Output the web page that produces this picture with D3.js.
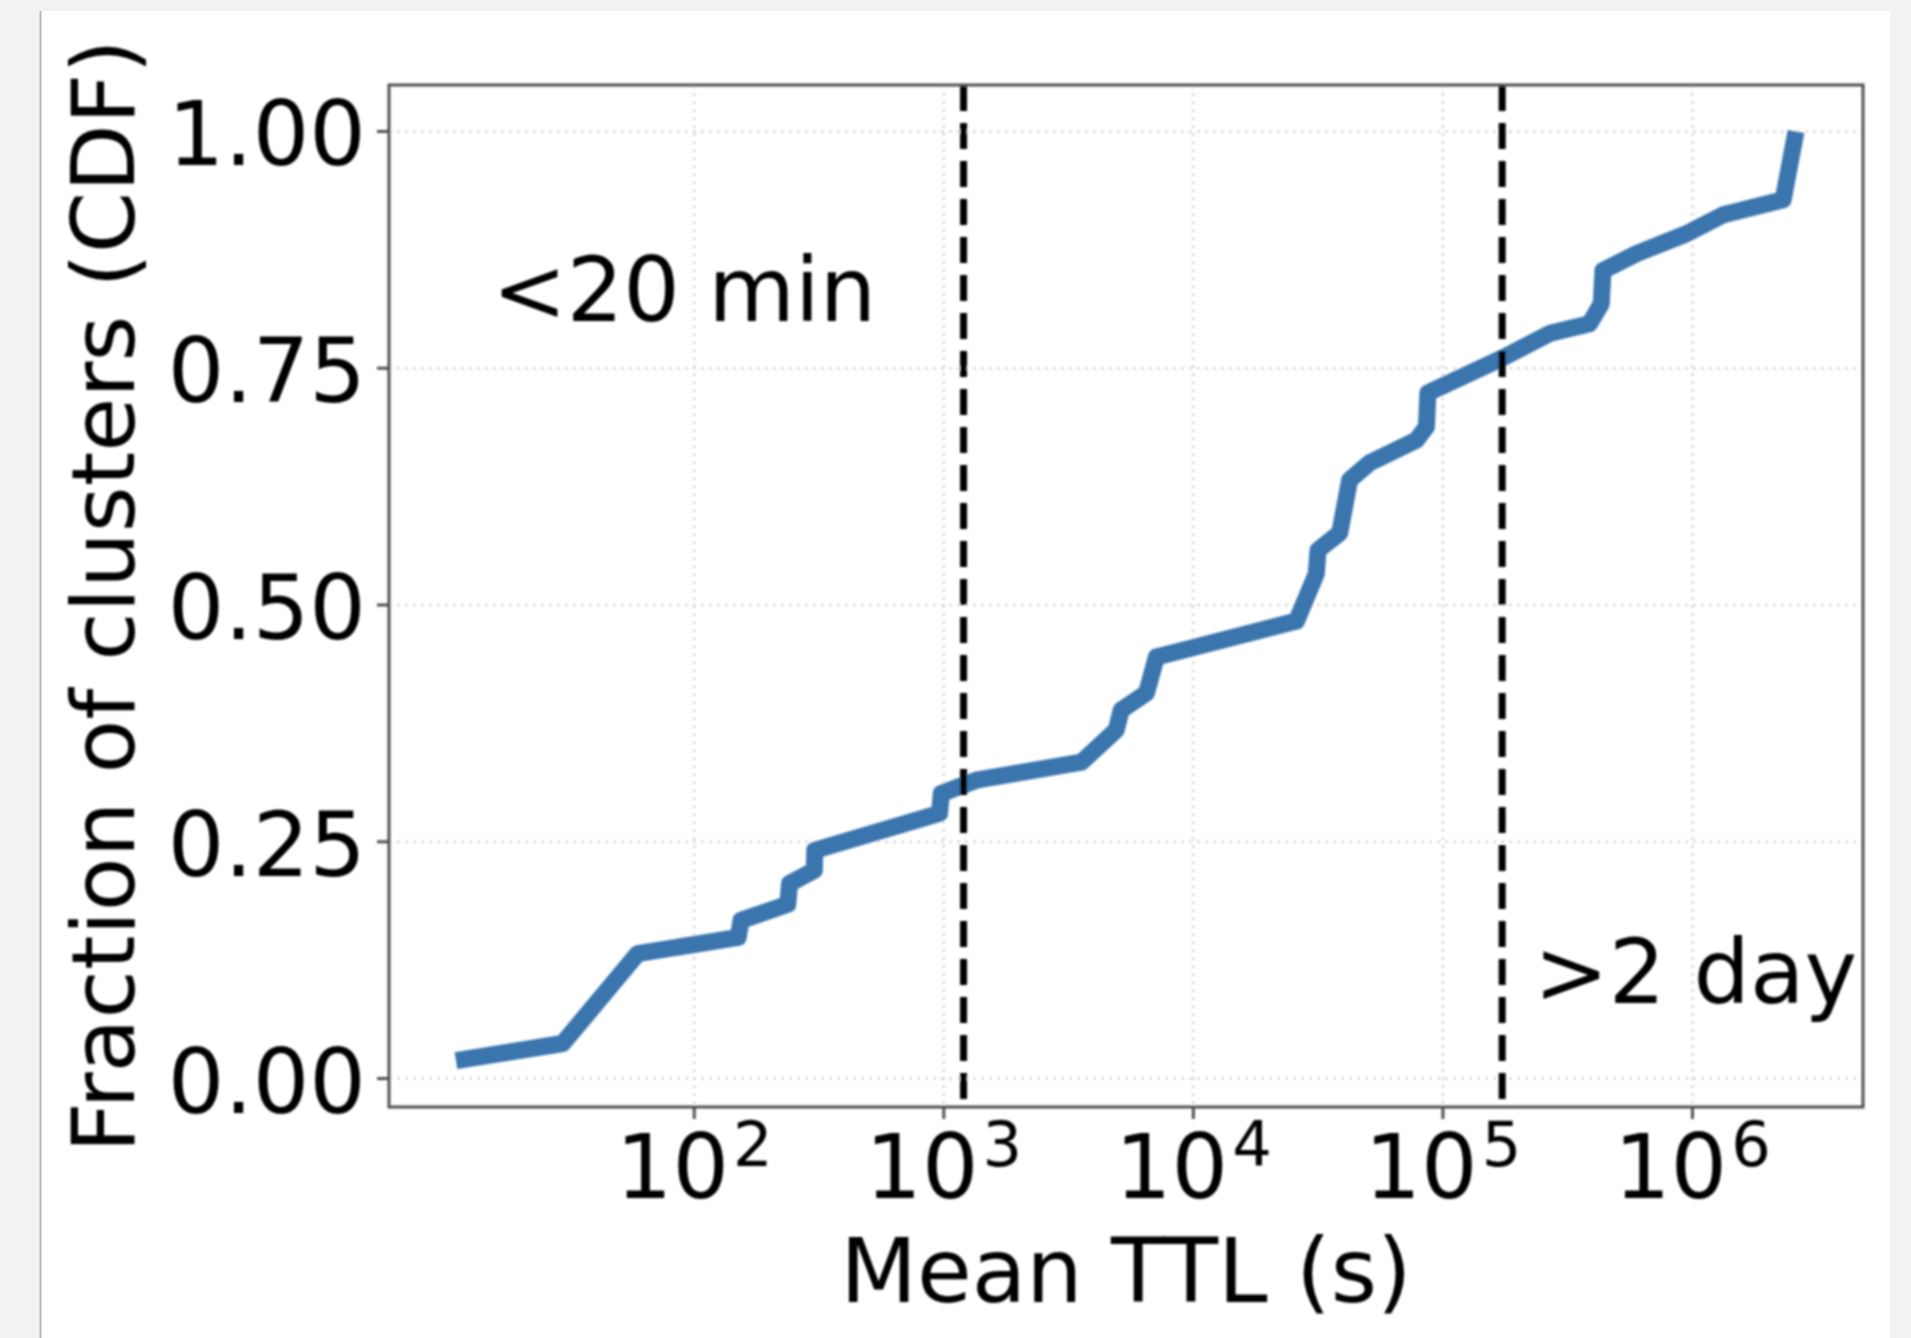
<!DOCTYPE html>
<html>
<head>
<meta charset="utf-8">
<script src="https://cdn.jsdelivr.net/npm/d3@7"></script>
<style>
body { margin: 0; background: #f2f2f2; }
svg { display: block; }
</style>
</head>
<body>
<script>
// mean TTL (s) and CDF value at each vertex of the curve
const ttlSeconds = [11.1, 29.7, 59.4, 150, 154, 237, 241, 303, 304,
    962, 977, 1350, 3560, 4910, 5140, 6490, 7110,
    25900, 31100, 31600, 38600, 42300, 50800, 78300, 85900, 87100,
    174000, 269000, 387000, 431000, 438000, 597000, 946000, 1330000, 2310000, 2600000];
const cdfFraction = [0.019, 0.037, 0.132, 0.149, 0.167, 0.184, 0.206, 0.220, 0.241,
    0.280, 0.301, 0.315, 0.334, 0.368, 0.389, 0.407, 0.445,
    0.483, 0.533, 0.558, 0.576, 0.632, 0.650, 0.674, 0.688, 0.724,
    0.761, 0.787, 0.797, 0.818, 0.853, 0.871, 0.892, 0.912, 0.928, 1.0];

const xTickExp = [2, 3, 4, 5, 6];
const yTicks = [0, 0.25, 0.5, 0.75, 1.0];
const yTickLabels = ["0.00", "0.25", "0.50", "0.75", "1.00"];

// 20 min and 2 days
const thresholds = [1200, 172800];
const noteText = ["<20 min", ">2 day"];
const noteX = [15.5, 232000];
const noteY = [0.8, 0.08];

const xLabel = "Mean TTL (s)";
const yLabel = "Fraction of clusters (CDF)";

function drawChart() {
    var W = 1911, H = 1338;
    var left = 389, right = 1863, top = 85, bottom = 1107;
    var fs = 89;
    var font = "DejaVu Sans, Verdana, sans-serif";

    var svg = d3.select("body")
        .append("svg")
        .attr("width", W)
        .attr("height", H);

    // soft blur like the source image
    svg.append("defs")
        .append("filter")
        .attr("id", "soft")
        .append("feGaussianBlur")
        .attr("stdDeviation", 0.8);

    // page + white card
    svg.append("rect")
        .attr("width", W).attr("height", H)
        .attr("fill", "#f2f2f2");
    svg.append("rect")
        .attr("x", 41).attr("y", 11)
        .attr("width", 1849).attr("height", H - 11)
        .attr("fill", "#ffffff");
    svg.append("line")
        .attr("x1", 40.5).attr("x2", 40.5)
        .attr("y1", 11).attr("y2", H)
        .attr("stroke", "#b8b8b8")
        .attr("stroke-width", 2);

    var g = svg.append("g").attr("filter", "url(#soft)");

    // matplotlib style 5% margins in log / linear space
    var lx = ttlSeconds.map(d => Math.log10(d));
    var lxMin = d3.min(lx), lxMax = d3.max(lx);
    var mx = (lxMax - lxMin) * 0.05;
    var yMin = d3.min(cdfFraction), yMax = d3.max(cdfFraction);
    var my = (yMax - yMin) * 0.05;

    var x = d3.scaleLog()
        .domain([Math.pow(10, lxMin - mx), Math.pow(10, lxMax + mx)])
        .range([left, right]);
    var y = d3.scaleLinear()
        .domain([yMin - my, yMax + my])
        .range([bottom, top]);

    var xTicks = xTickExp.map(e => Math.pow(10, e));

    // grid
    var grid = g.append("g");
    grid.selectAll(".gx")
        .data(xTicks)
        .enter()
        .append("line")
        .attr("x1", d => x(d)).attr("x2", d => x(d))
        .attr("y1", top).attr("y2", bottom)
        .attr("stroke", "#d8d8d8")
        .attr("stroke-width", 2.5)
        .attr("stroke-dasharray", "3,5");
    grid.selectAll(".gy")
        .data(yTicks)
        .enter()
        .append("line")
        .attr("x1", left).attr("x2", right)
        .attr("y1", d => y(d)).attr("y2", d => y(d))
        .attr("stroke", "#d8d8d8")
        .attr("stroke-width", 2.5)
        .attr("stroke-dasharray", "3,5");

    // the CDF curve
    var pts = ttlSeconds.map((d, i) => [d, cdfFraction[i]]);
    var line = d3.line()
        .x(d => x(d[0]))
        .y(d => y(d[1]));
    g.append("path")
        .datum(pts)
        .attr("d", line)
        .attr("fill", "none")
        .attr("stroke", "#3a75ae")
        .attr("stroke-width", 17)
        .attr("stroke-linejoin", "round")
        .attr("stroke-linecap", "butt");

    // threshold lines
    g.selectAll(".thr")
        .data(thresholds)
        .enter()
        .append("line")
        .attr("x1", d => x(d)).attr("x2", d => x(d))
        .attr("y1", top).attr("y2", bottom)
        .attr("stroke", "#000")
        .attr("stroke-width", 7)
        .attr("stroke-dasharray", "26,12");

    // notes
    noteText.forEach((t, i) => {
        g.append("text")
            .attr("x", x(noteX[i]))
            .attr("y", y(noteY[i]))
            .attr("font-family", font)
            .attr("font-size", fs)
            .attr("fill", "#000")
            .text(t);
    });

    // frame
    g.append("rect")
        .attr("x", left).attr("y", top)
        .attr("width", right - left).attr("height", bottom - top)
        .attr("fill", "none")
        .attr("stroke", "#505050")
        .attr("stroke-width", 3);

    // x ticks
    var xa = g.append("g");
    xa.selectAll(".xt")
        .data(xTicks)
        .enter()
        .append("line")
        .attr("x1", d => x(d)).attr("x2", d => x(d))
        .attr("y1", bottom).attr("y2", bottom + 12)
        .attr("stroke", "#505050")
        .attr("stroke-width", 3);
    var xl = xa.selectAll(".xl")
        .data(xTickExp)
        .enter()
        .append("text")
        .attr("x", d => x(Math.pow(10, d)))
        .attr("y", 1198)
        .attr("text-anchor", "middle")
        .attr("font-family", font)
        .attr("font-size", fs)
        .attr("fill", "#000");
    xl.append("tspan").text("10");
    xl.append("tspan")
        .attr("dx", 4)
        .attr("dy", -32)
        .attr("font-size", fs * 0.7)
        .text(d => d);

    // y ticks
    var ya = g.append("g");
    ya.selectAll(".yt")
        .data(yTicks)
        .enter()
        .append("line")
        .attr("x1", left - 12).attr("x2", left)
        .attr("y1", d => y(d)).attr("y2", d => y(d))
        .attr("stroke", "#505050")
        .attr("stroke-width", 3);
    ya.selectAll(".yl")
        .data(yTicks)
        .enter()
        .append("text")
        .attr("x", 366)
        .attr("y", d => y(d) + 34)
        .attr("text-anchor", "end")
        .attr("font-family", font)
        .attr("font-size", fs)
        .attr("fill", "#000")
        .text((d, i) => yTickLabels[i]);

    // axis titles
    g.append("text")
        .attr("x", (left + right) / 2)
        .attr("y", 1302)
        .attr("text-anchor", "middle")
        .attr("font-family", font)
        .attr("font-size", fs)
        .attr("fill", "#000")
        .text(xLabel);
    g.append("text")
        .attr("transform", "translate(134," + ((top + bottom) / 2) + ") rotate(-90)")
        .attr("text-anchor", "middle")
        .attr("font-family", font)
        .attr("font-size", 88)
        .attr("fill", "#000")
        .text(yLabel);
}

window.onload = drawChart;
</script>
</body>
</html>
